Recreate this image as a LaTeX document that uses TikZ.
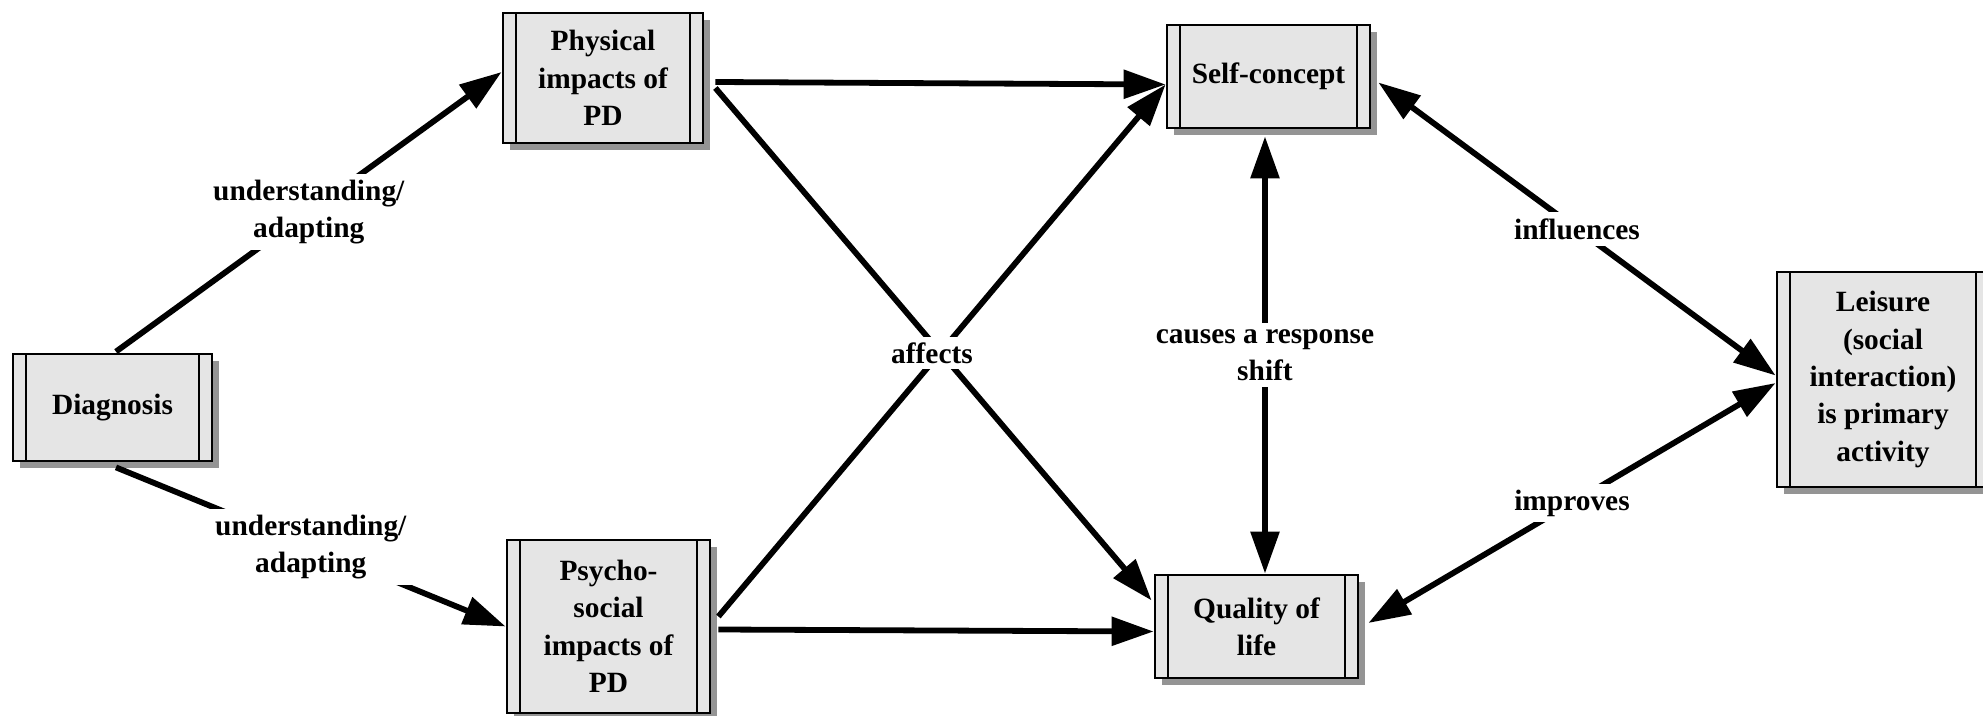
\documentclass[tikz,border=0pt]{standalone}
\usepackage{fontspec}
\setmainfont{Liberation Serif}
\usetikzlibrary{shadows,arrows.meta}

\definecolor{boxgray}{gray}{0.9}
\definecolor{shadowgray}{gray}{0.58}

\begin{document}
\begin{tikzpicture}[x=0.5pt,y=-0.5pt,
  every node/.style={font=\bfseries\fontsize{14.7}{18.7}\selectfont, align=center},
  >={Triangle[length=21pt,width=14pt]},
  procbox/.style={draw=black, line width=1.4pt, fill=boxgray, inner sep=0pt,
    drop shadow={shadow xshift=3.5pt, shadow yshift=-3.5pt, fill=shadowgray, opacity=1},
    path picture={
      \draw[line width=1.4pt]
        ([xshift=6.5pt]path picture bounding box.north west) -- ([xshift=6.5pt]path picture bounding box.south west)
        ([xshift=-6.5pt]path picture bounding box.north east) -- ([xshift=-6.5pt]path picture bounding box.south east);}},
  link/.style={line width=2.9pt, ->},
  dlink/.style={line width=2.9pt, <->},
  lbl/.style={fill=white, inner sep=3pt}
]
\useasboundingbox (0,0) rectangle (1983,716);

% process boxes
\node[procbox, minimum width=99.5pt, minimum height=53.5pt] (diag) at (112.5,407.5) {Diagnosis};
\node[procbox, minimum width=100pt, minimum height=65pt] (phys) at (603,78) {Physical\\impacts of\\PD};
\node[procbox, minimum width=101.5pt, minimum height=86.5pt] (psy) at (608.5,626.5) {Psycho-\\social\\impacts of\\PD};
\node[procbox, minimum width=101.5pt, minimum height=51.5pt] (self) at (1268.5,76.5) {Self-concept};
\node[procbox, minimum width=101.5pt, minimum height=51.5pt] (qol) at (1256.5,626.5) {Quality of\\life};
\node[procbox, minimum width=106pt, minimum height=107.5pt] (leis) at (1883,379.5) {Leisure\\(social\\interaction)\\is primary\\activity};

% diagnosis to impacts
\draw[link] ([xshift=1.75pt,yshift=0.5pt]diag.north) -- node[lbl] {understanding/\\adapting} ([yshift=3pt]phys.west);
\draw[link] ([xshift=1.75pt,yshift=-2.5pt]diag.south) -- node[lbl] {understanding/\\adapting} (psy.west);

% impacts to outcomes
\draw[link] ([xshift=5.5pt,yshift=-2pt]phys.east) -- ([yshift=-4pt]self.west);
\draw[link] ([xshift=3.5pt,yshift=5pt]psy.east) -- ([yshift=-4pt]self.west);
\draw[link] ([xshift=3.5pt,yshift=-1.5pt]psy.east) -- ([yshift=-2.5pt]qol.west);
\draw[link] ([xshift=5.5pt,yshift=-5pt]phys.east) -- ([xshift=-1pt,yshift=13pt]qol.west);
\node[lbl] (aff) at (932,353) {affects};

% self-concept and quality of life
\draw[dlink] ([xshift=-1.75pt,yshift=-3.5pt]self.south) -- node[lbl] {causes a response\\shift} ([xshift=4.25pt]qol.north);

% leisure links
\draw[dlink] ([xshift=3.5pt,yshift=-3pt]self.east) -- node[lbl] {influences} ([yshift=2pt]leis.west);
\draw[dlink] ([yshift=-1.75pt]leis.west) -- node[lbl] {improves} ([xshift=4.5pt,yshift=1.75pt]qol.east);
\end{tikzpicture}
\end{document}
